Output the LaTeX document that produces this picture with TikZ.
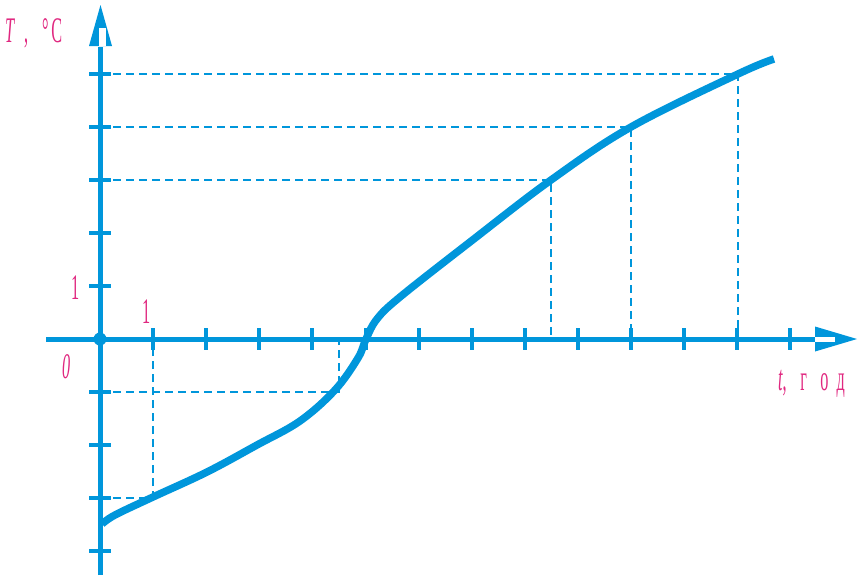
\documentclass[tikz,border=0pt]{standalone}
\usepackage{fontspec}
\setmainfont{Liberation Serif}
\definecolor{axblue}{RGB}{0,150,219}
\definecolor{lblmag}{RGB}{224,40,128}
\begin{document}
\begin{tikzpicture}[x=1pt,y=-1pt,
  axisline/.style={draw=axblue,line width=5pt},
  tickmark/.style={draw=axblue,line width=4pt},
  guide/.style={draw=axblue,line width=1.8pt,dash pattern=on 8pt off 5pt},
  curveline/.style={draw=axblue,line width=7.5pt},
  lbl/.style={text=lblmag,inner sep=0pt,anchor=base west,font=\fontsize{36}{40}\selectfont}]
\useasboundingbox (0,0) rectangle (864,579);
\coordinate (O) at (100,339);
% guides
\draw[guide] (100,74) -- (738,74) -- (738,339);
\draw[guide] (100,127) -- (631,127) -- (631,339);
\draw[guide] (100,180) -- (551,180) -- (551,339);
\draw[guide] (100,392) -- (339,392) -- (339,339);
\draw[guide] (100,498) -- (153,498) -- (153,339);
% axes
\draw[axisline] (46,339) -- (815,339);
\draw[axisline] (100,575) -- (100,47);
\fill[axblue] (857,339) -- (815,326.5) -- (815,351.5) -- cycle;
\fill[white] (815,336.8) rectangle (835,341.6);
\fill[axblue] (100.5,5) -- (89,46) -- (112,46) -- cycle;
\fill[white] (98.5,28) rectangle (106,46);
\fill[axblue] (O) circle (6.5pt);
% ticks
\foreach \i in {1,...,13} {\draw[tickmark] ({100+53.1*\i},328) -- ({100+53.1*\i},350);}
\foreach \y in {74,127,180,233,286,392,445,498,551} {\draw[tickmark] (89,\y) -- (111,\y);}
% curve
\draw[curveline] plot[smooth,tension=0.6] coordinates {
 (102,524) (115,515) (153,497) (207,472) (257,445) (300,421)
 (335,390) (358,358) (366,339) (377,319) (400,297)
 (470,242) (551,180) (631,127) (738,74) (774,59)};
% labels
\node[lbl] (lT) at (5,42) {\scalebox{0.45}[1]{\textit{T}}};
\node[lbl] (lc) at (24,42) {\scalebox{0.45}[1]{,}};
\node[lbl] (lC) at (42,42) {\scalebox{0.45}[1]{°\hspace{6pt}C}};
\node[lbl] (ly1) at (71,299) {\scalebox{0.45}[1]{1}};
\node[lbl] (lx1) at (142,323) {\scalebox{0.45}[1]{1}};
\node[lbl] (l0) at (62,378) {\scalebox{0.45}[1]{\textit{0}}};
\node[lbl] (lt) at (778,390) {\scalebox{0.45}[1]{\textit{t},\hspace{30pt}г\hspace{30pt}о\hspace{18pt}д}};
\end{tikzpicture}
\end{document}
